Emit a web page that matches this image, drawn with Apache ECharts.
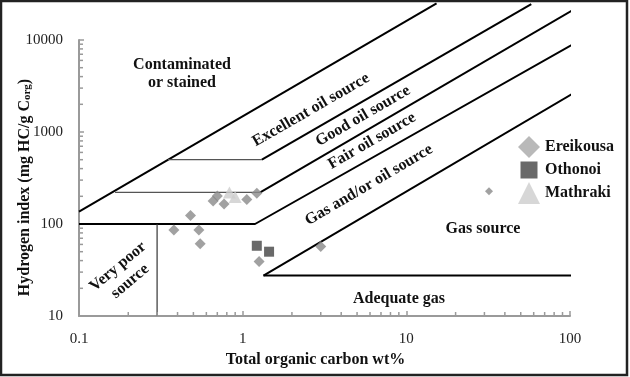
<!DOCTYPE html>
<html>
<head>
<meta charset="utf-8">
<script src="https://cdn.jsdelivr.net/npm/echarts@6/dist/echarts.min.js"></script>
<style>
  html, body { margin: 0; padding: 0; background: #fff; }
  #chart { width: 630px; height: 377px; }
</style>
</head>
<body>
<div id="chart"></div>
<script>
// samples (TOC wt%, HI mg HC/g Corg)
const ereikousaTOC = [0.38, 0.54, 0.55, 0.48, 0.66, 0.70, 0.77, 1.06, 1.22, 1.26, 3.0, 32];
const ereikousaHI = [86, 86, 61, 124, 178, 201, 165, 185, 216, 39, 57, 227];
const othonoiTOC = [1.22, 1.45];
const othonoiHI = [58, 50];
const mathrakiTOC = [0.83, 0.90];
const mathrakiHI = [220, 196];

// field boundaries [TOC, HI]
const contaminatedEdge = [[0.1, 136], [15.3, 25000]];
const excellentFlat = [[0.35, 500], [1.31, 500]];
const excellentEdge = [[1.31, 500], [58, 24600]];
const goodFlat = [[0.166, 221], [1.28, 221]];
const goodEdge = [[1.28, 221], [123, 25200]];
const fairEdge = [[0.1, 100], [1.19, 100], [216, 18700]];
const gasOilEdge = [[1.34, 27.5], [216, 5620]];
const adequateGasEdge = [[1.34, 27.5], [216, 27.5]];
const veryPoorEdge = [[0.3, 10], [0.3, 100]];

const xTickLabels = [0.1, 1, 10, 100];
const yTickLabels = [10, 100, 1000, 10000];

const FONT = '"Liberation Serif", "Times New Roman", serif';
const AXIS_GREY = '#9a9a9a';

const minorTicks = (decades) => {
  const out = [];
  decades.forEach((d) => { for (let k = 2; k <= 9; k++) out.push(+(k * d).toPrecision(3)); });
  return out;
};
const xMinor = minorTicks(xTickLabels.slice(0, -1));
const yMinor = minorTicks(yTickLabels.slice(0, -1));

const zip = (a, b) => a.map((v, i) => [v, b[i]]);

const boundary = (data, width, color) => ({
  type: 'line',
  data,
  clip: false,
  silent: true,
  showSymbol: false,
  symbol: 'none',
  animation: false,
  z: 2,
  lineStyle: { color, width },
});

const tickSeries = (points, horizontal) => ({
  type: 'custom',
  silent: true,
  clip: false,
  animation: false,
  z: 3,
  data: points,
  renderItem: (params, api) => {
    const p = api.coord([api.value(0), api.value(1)]);
    const shape = horizontal
      ? { x1: p[0], y1: p[1], x2: p[0] + 4, y2: p[1] }
      : { x1: p[0], y1: p[1], x2: p[0], y2: p[1] - 4 };
    return { type: 'line', shape, style: { stroke: AXIS_GREY, lineWidth: 1.5 } };
  },
});

const label = (text, x, y, deg, lineHeight) => ({
  type: 'text',
  x, y,
  rotation: (deg || 0) * Math.PI / 180,
  silent: true,
  z: 10,
  style: {
    text,
    font: 'bold 16px ' + FONT,
    fill: '#111',
    align: 'center',
    verticalAlign: 'middle',
    lineHeight: lineHeight || 18,
  },
});

const chart = echarts.init(document.getElementById('chart'));

chart.setOption({
  backgroundColor: '#fff',
  animation: false,
  grid: { left: 79, right: 60, top: 40, bottom: 61, containLabel: false, outerBoundsMode: 'none' },
  legend: {
    orient: 'vertical',
    left: 518,
    top: 136,
    padding: 0,
    itemWidth: 22,
    itemHeight: 22,
    itemGap: 1,
    textStyle: { fontFamily: FONT, fontSize: 16, fontWeight: 'bold', color: '#111' },
    data: [
      { name: 'Ereikousa', itemStyle: { color: '#a8a8a8' } },
      { name: 'Othonoi', icon: 'path://M0,0M22,22M2.5,2.5h17v17h-17z' },
      { name: 'Mathraki', icon: 'triangle' },
    ],
  },
  xAxis: {
    type: 'log',
    logBase: 10,
    min: 0.1,
    max: 100,
    name: 'Total organic carbon wt%',
    nameLocation: 'middle',
    nameGap: 36,
    nameMoveOverlap: false,
    nameTextStyle: { fontFamily: FONT, fontSize: 16, fontWeight: 'bold', color: '#111', padding: [0, 18, 0, 0] },
    axisLine: { lineStyle: { color: AXIS_GREY, width: 2 } },
    axisTick: { inside: true, length: 5, lineStyle: { color: AXIS_GREY, width: 1.5 } },
    axisLabel: { margin: 16, fontFamily: FONT, fontSize: 15, color: '#222', formatter: (v) => String(v) },
    splitLine: { show: false },
  },
  yAxis: {
    type: 'log',
    logBase: 10,
    min: 10,
    max: 10000,
    name: '{a|Hydrogen index (mg HC/g C}{s|org}{a|)}',
    nameLocation: 'middle',
    nameGap: 46,
    nameMoveOverlap: false,
    nameTextStyle: {
      padding: [0, 19, 0, 0],
      rich: {
        a: { fontFamily: FONT, fontSize: 16, fontWeight: 'bold', color: '#111', lineHeight: 18, verticalAlign: 'bottom' },
        s: { fontFamily: FONT, fontSize: 11, fontWeight: 'bold', color: '#111', lineHeight: 11, verticalAlign: 'bottom' },
      },
    },
    axisLine: { lineStyle: { color: AXIS_GREY, width: 2 } },
    axisTick: { inside: true, length: 5, lineStyle: { color: AXIS_GREY, width: 1.5 } },
    axisLabel: { margin: 16, fontFamily: FONT, fontSize: 15, color: '#222', formatter: (v) => String(v) },
    splitLine: { show: false },
  },
  graphic: [
    { type: 'rect', silent: true, z: 20, shape: { x: 1, y: 1, width: 626, height: 374 },
      style: { fill: 'none', stroke: '#222', lineWidth: 2.5 } },
    label('Contaminated\nor stained', 182, 74, 0, 18),
    label('Excellent oil source', 311, 110, 30),
    label('Good oil source', 363, 116, 30),
    label('Fair oil source', 372, 141, 30),
    label('Gas and/or oil source', 369, 185, 30.5),
    label('Gas source', 483, 229, 0),
    label('Adequate gas', 399, 299, 0),
    label('Very poor\nsource', 124, 274, 40, 19),
  ],
  series: [
    boundary(contaminatedEdge, 2, '#000'),
    boundary(excellentFlat, 1.2, '#555'),
    boundary(excellentEdge, 2, '#000'),
    boundary(goodFlat, 1.2, '#555'),
    boundary(goodEdge, 2, '#000'),
    boundary(fairEdge, 2, '#000'),
    boundary(gasOilEdge, 2, '#000'),
    boundary(adequateGasEdge, 2, '#000'),
    boundary(veryPoorEdge, 1.2, '#333'),
    tickSeries(xMinor.map((v) => [v, 10]), false),
    tickSeries(yMinor.map((v) => [0.1, v]), true),
    {
      name: 'Ereikousa',
      type: 'scatter',
      symbol: 'diamond',
      symbolSize: (val, p) => (p.dataIndex === ereikousaTOC.length - 1 ? 8 : 11),
      itemStyle: { color: '#8a8a8a' },
      z: 5,
      data: zip(ereikousaTOC, ereikousaHI),
    },
    {
      name: 'Othonoi',
      type: 'scatter',
      symbol: 'rect',
      symbolSize: 10,
      itemStyle: { color: '#444' },
      z: 5,
      data: zip(othonoiTOC, othonoiHI),
    },
    {
      name: 'Mathraki',
      type: 'scatter',
      symbol: 'triangle',
      symbolSize: [13, 12],
      itemStyle: { color: '#cdcdcd' },
      z: 5,
      data: zip(mathrakiTOC, mathrakiHI),
    },
  ],
});
</script>
</body>
</html>
